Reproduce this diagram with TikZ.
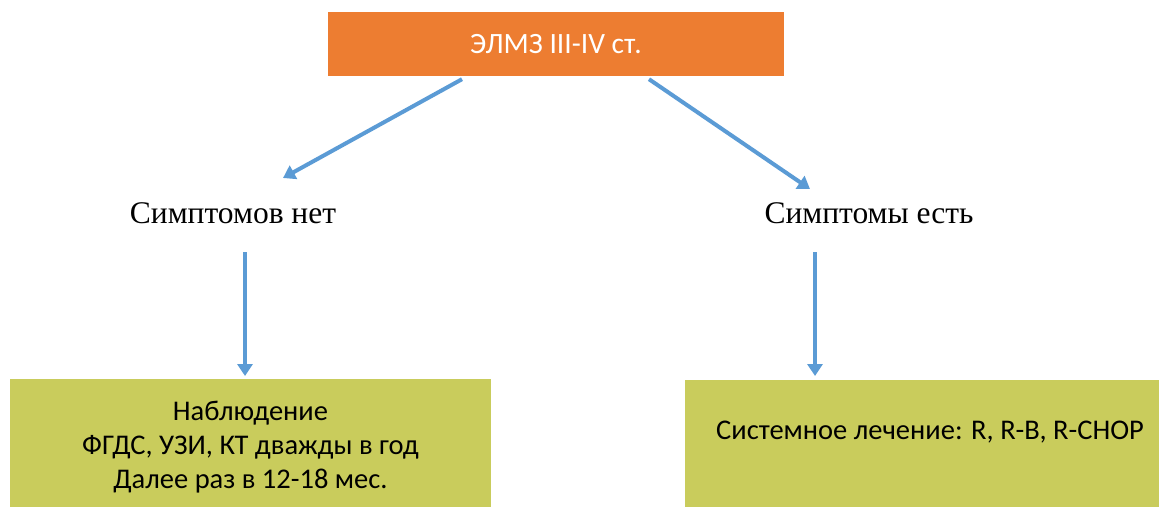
\documentclass[tikz,border=0pt]{standalone}
\usepackage{fontspec}
\setmainfont{Carlito}
\newfontfamily\serifcyr{Liberation Serif}
\usetikzlibrary{arrows.meta,positioning}
\definecolor{stageorange}{HTML}{ED7D31}
\definecolor{planolive}{HTML}{C9CC5C}
\definecolor{linkblue}{HTML}{5B9BD5}
\tikzset{
  link/.style={linkblue, line width=4pt, -{Triangle[length=12pt,width=15pt]}},
  planbox/.style={fill=planolive, inner sep=0pt},
  plantext/.style={align=center, font=\fontsize{28.5}{34}\selectfont},
  branch/.style={font=\serifcyr\fontsize{31.5}{36}\selectfont}
}
\begin{document}
\begin{tikzpicture}[x=1pt,y=-1pt]
\useasboundingbox (0,0) rectangle (1159,506);

% top
\node[fill=stageorange, minimum width=456pt, minimum height=64pt, text=white,
  font=\fontsize{29.5}{34}\selectfont] (stage) at (556,44) {ЭЛМЗ III-IV ст.};

% branches
\node[branch] (nosympt) at (233,213) {Симптомов нет};
\node[branch] (sympt) at (869,213) {Симптомы есть};

% boxes
\node[planbox, minimum width=481pt, minimum height=140pt, anchor=north] (watch) at (250.5,379) {};
\node[plantext] (watchtext) at ([yshift=-68pt]watch.north)
  {Наблюдение\\ФГДС, УЗИ, КТ дважды в год\\Далее раз в 12-18 мес.};
\node[planbox, minimum width=490pt, minimum height=140pt, anchor=north] (therapy) at (930,380) {};
\node[plantext] (therapytext) at ([yshift=-52pt]therapy.north)
  {Системное лечение: R, R-B, R-CHOP};

% arrows
\draw[link] ([xshift=-94pt,yshift=-3pt]stage.south) -- ([xshift=50pt,yshift=35pt]nosympt.center);
\draw[link] ([xshift=93pt,yshift=-3pt]stage.south) -- ([xshift=-59pt,yshift=24pt]sympt.center);
\draw[link] ([xshift=12pt,yshift=-39pt]nosympt.center) -- ([xshift=-5.5pt,yshift=3pt]watch.north);
\draw[link] ([xshift=-54pt,yshift=-39pt]sympt.center) -- ([xshift=-115pt,yshift=4pt]therapy.north);
\end{tikzpicture}
\end{document}
